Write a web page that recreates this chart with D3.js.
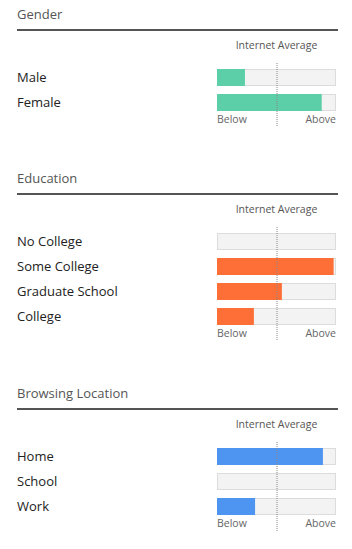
<!DOCTYPE html>
<html>
<head>
<meta charset="utf-8">
<script src="https://cdn.jsdelivr.net/npm/d3@7"></script>
<style>
  body { margin: 0; background: #fff; font-family: "Open Sans", sans-serif; }
</style>
</head>
<body>
<div id="chart"></div>
<script>
// values are share of the bar (0 = far below, 1 = far above, 0.5 = internet average)
const genderLabels = ["Male", "Female"];
const genderValues = [0.235, 0.88];

const educationLabels = ["No College", "Some College", "Graduate School", "College"];
const educationValues = [0, 0.98, 0.545, 0.31];

const locationLabels = ["Home", "School", "Work"];
const locationValues = [0.89, 0, 0.32];

const sectionTitles = ["Gender", "Education", "Browsing Location"];
const sectionColors = ["#5ccfa9", "#fe6f37", "#4e94f1"];
const averageLabel = "Internet Average";
const endLabels = ["Below", "Above"];

const width = 352;
const height = 549;

const svg = d3
  .select("#chart")
  .append("svg")
  .attr("width", width)
  .attr("height", height);

const x = d3.scaleLinear().domain([0, 1]).range([217, 336]);

const sections = [
  { title: sectionTitles[0], labels: genderLabels, values: genderValues, color: sectionColors[0], top: 19 },
  { title: sectionTitles[1], labels: educationLabels, values: educationValues, color: sectionColors[1], top: 183 },
  { title: sectionTitles[2], labels: locationLabels, values: locationValues, color: sectionColors[2], top: 398 },
];

sections.forEach((s) => {
  const g = svg.append("g").attr("transform", `translate(0,${s.top})`);

  g.append("text")
    .attr("x", 17)
    .attr("y", 0)
    .attr("fill", "#555")
    .style("font-size", "13px")
    .text(s.title);

  g.append("rect")
    .attr("x", 17)
    .attr("y", 10)
    .attr("width", 321)
    .attr("height", 2)
    .attr("fill", "#555");

  g.append("text")
    .attr("x", x(0.5))
    .attr("y", 30)
    .attr("text-anchor", "middle")
    .attr("fill", "#555")
    .style("font-size", "10.5px")
    .text(averageLabel);

  // 25px per row, 17px bars
  const y = d3
    .scaleBand()
    .domain(s.labels)
    .range([50, 50 + 25 * s.labels.length - 8])
    .paddingInner(0.32)
    .paddingOuter(0);

  const rows = g
    .selectAll(".row")
    .data(s.labels.map((l, i) => ({ label: l, value: s.values[i] })))
    .join("g")
    .attr("class", "row");

  rows
    .append("text")
    .attr("x", 17)
    .attr("y", (d) => y(d.label) + y.bandwidth() / 2 + 4.5)
    .attr("fill", "#222")
    .style("font-size", "13px")
    .text((d) => d.label);

  rows
    .append("rect")
    .attr("x", x(0) + 0.5)
    .attr("y", (d) => y(d.label) + 0.5)
    .attr("width", x(1) - x(0) - 1)
    .attr("height", y.bandwidth() - 1)
    .attr("fill", "#f3f3f3")
    .attr("stroke", "#dcdcdc");

  rows
    .append("rect")
    .attr("x", x(0))
    .attr("y", (d) => y(d.label))
    .attr("width", (d) => x(d.value) - x(0))
    .attr("height", y.bandwidth())
    .attr("fill", s.color);

  const last = s.labels[s.labels.length - 1];
  const bottom = y(last) + y.bandwidth();

  g.append("line")
    .attr("x1", x(0.5) + 0.5)
    .attr("x2", x(0.5) + 0.5)
    .attr("y1", 44)
    .attr("y2", bottom + 16)
    .attr("stroke", "#888")
    .attr("stroke-width", 1)
    .attr("stroke-dasharray", "1,1");

  g.append("text")
    .attr("x", x(0))
    .attr("y", bottom + 12)
    .attr("fill", "#666")
    .style("font-size", "10.5px")
    .text(endLabels[0]);

  g.append("text")
    .attr("x", x(1))
    .attr("y", bottom + 12)
    .attr("text-anchor", "end")
    .attr("fill", "#666")
    .style("font-size", "10.5px")
    .text(endLabels[1]);
});
</script>
</body>
</html>
